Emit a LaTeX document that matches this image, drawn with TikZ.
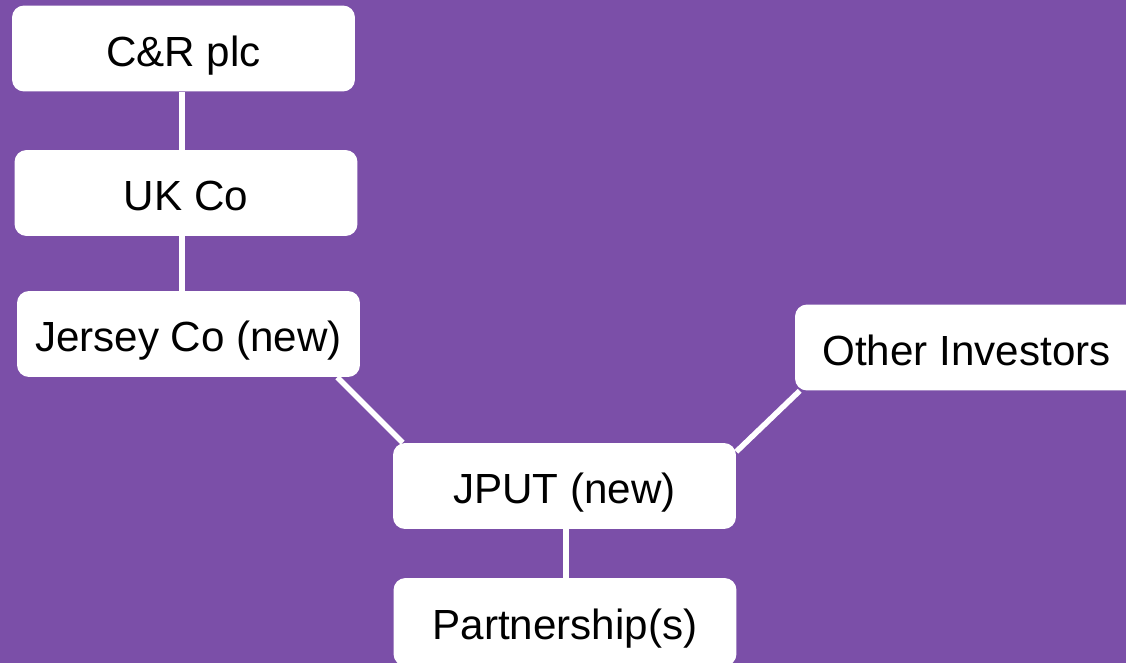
\documentclass[tikz,border=0pt]{standalone}
\usepackage{fontspec}
\setmainfont{Liberation Sans}
\definecolor{bgpurple}{HTML}{7B4FA8}

\begin{document}
\begin{tikzpicture}[x=0.02cm, y=-0.02cm,
    entity/.style={fill=white, rounded corners=0.24cm, minimum width=6.86cm,
        minimum height=1.72cm, inner sep=0pt, text height=22pt, text depth=2pt,
        font=\fontsize{24}{28}\selectfont},
    link/.style={draw=white, line width=0.11cm}]
    \fill[bgpurple] (0,0) rectangle (1126,663);
    \useasboundingbox (0,0) rectangle (1126,663);
    \clip (0,0) rectangle (1126,663);

    % left column
    \node[entity] (cr) at (183.5,48.5) {C\&R plc};
    \node[entity] (ukco) at (186,193) {UK Co};
    \node[entity] (jersey) at (188.5,334) {Jersey Co (new)};

    % trust and below
    \node[entity] (jput) at (564.5,486) {JPUT (new)};
    \node[entity, minimum height=1.76cm] (part) at (565,622) {Partnership(s)};

    % outside investors
    \node[entity] (other) at (966.5,347.5) {Other Investors};

    \draw[link] ([xshift=-0.03cm]cr.south) -- ([xshift=-0.03cm]cr.south |- ukco.north);
    \draw[link] ([xshift=-0.03cm]cr.south |- ukco.south) -- ([xshift=-0.03cm]cr.south |- jersey.north);
    \draw[link] ([xshift=-0.46cm]jersey.south east) -- ([xshift=0.2cm]jput.north west);
    \draw[link] ([xshift=0.1cm]other.south west) -- ([yshift=-0.18cm]jput.north east);
    \draw[link] ([xshift=0.03cm]jput.south) -- ([xshift=0.03cm]jput.south |- part.north);

\end{tikzpicture}
\end{document}
